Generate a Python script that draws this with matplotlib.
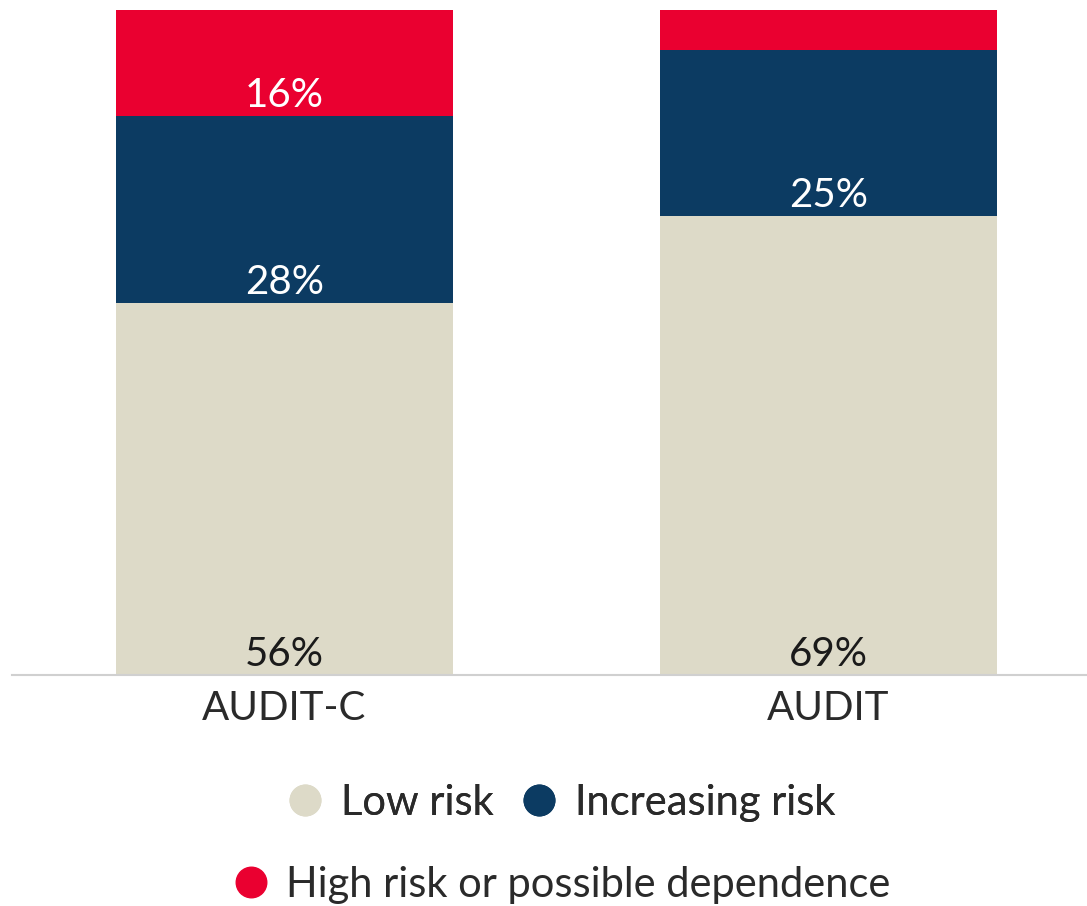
import numpy as np
import matplotlib.pyplot as plt
from matplotlib.lines import Line2D

# dados
categorias = ['AUDIT-C', 'AUDIT']
baixo_risco = [56, 69]
risco_crescente = [28, 25]
alto_risco = [16, 6]

series = [('Low risk', baixo_risco, '#DDDAC8', '#1a1a1a'),
          ('Increasing risk', risco_crescente, '#0C3B62', 'white'),
          ('High risk or possible dependence', alto_risco, '#EA0030', 'white')]

plt.rcParams['font.family'] = ['Lato', 'DejaVu Sans']

fig = plt.figure(figsize=(10.87, 9.06), dpi=100)
ax = fig.add_axes([12/1087, 1 - 675/906, 1 - 12/1087, 665/906])

x = np.arange(len(categorias))
base = np.zeros(len(categorias))
for nome, valores, cor, cor_texto in series:
    ax.bar(x, valores, 0.62, bottom=base, color=cor, label=nome)
    for xi, b, v in zip(x, base, valores):
        if v >= 10:
            ax.annotate(f'{v}%', (xi, b), xytext=(0, 6.5), textcoords='offset points',
                        ha='center', va='baseline', color=cor_texto, fontsize=29)
    base = base + np.array(valores)

ax.set_xlim(-0.501, 1.475)
ax.set_ylim(0, 100)
ax.set_xticks(x)
ax.set_xticklabels(categorias, fontsize=29, color='#2a2a2a')
ax.tick_params(axis='x', length=0, pad=11)
ax.set_yticks([])
for s in ['top', 'left', 'right']:
    ax.spines[s].set_visible(False)
ax.spines['bottom'].set_color('#D0D0D0')
ax.spines['bottom'].set_linewidth(1.5)

def marcador(cor):
    return Line2D([], [], marker='o', linestyle='', markersize=22,
                  markerfacecolor=cor, markeredgecolor=cor)

leg1 = fig.legend([marcador(series[0][2]), marcador(series[1][2])],
                  [series[0][0], series[1][0]], loc='center',
                  bbox_to_anchor=(560/1087, 1 - 803/906), ncol=2, frameon=False,
                  handlelength=1.0, handletextpad=0.35, columnspacing=0.6,
                  labelcolor='#2a2a2a', prop={'size': 30})
fig.add_artist(leg1)
fig.legend([marcador(series[2][2])], [series[2][0]], loc='center',
           bbox_to_anchor=(560/1087, 1 - 885/906), frameon=False,
           handlelength=1.0, handletextpad=0.35, labelcolor='#2a2a2a',
           prop={'size': 30})

fig.savefig('out.png', dpi=100)
